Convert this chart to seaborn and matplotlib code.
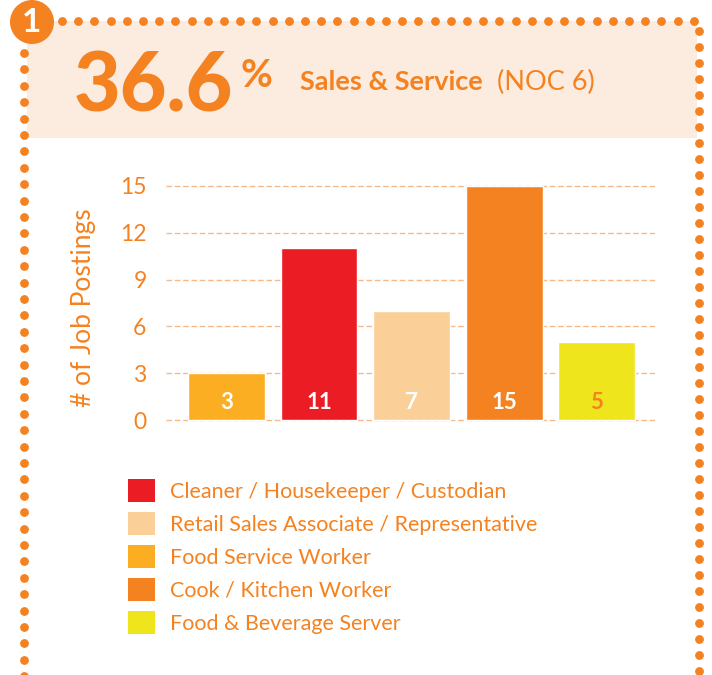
import numpy as np
import pandas as pd
import matplotlib
matplotlib.use("Agg")
from matplotlib import pyplot as plt
from matplotlib.patches import Patch, Rectangle, Circle
import seaborn as sns

# Bar data (left to right)
jobs = ["Food Service Worker", "Cleaner / Housekeeper / Custodian",
        "Retail Sales Associate / Representative", "Cook / Kitchen Worker",
        "Food & Beverage Server"]
postings = [3, 11, 7, 15, 5]

# Legend order as shown in the graphic
legend_order = ["Cleaner / Housekeeper / Custodian",
                "Retail Sales Associate / Representative",
                "Food Service Worker", "Cook / Kitchen Worker",
                "Food & Beverage Server"]

colors = {
    "Food Service Worker": "#FBAE22",
    "Cleaner / Housekeeper / Custodian": "#EC1C24",
    "Retail Sales Associate / Representative": "#FBCF98",
    "Cook / Kitchen Worker": "#F58220",
    "Food & Beverage Server": "#EEE51C",
}
label_colors = ["white", "white", "white", "white", "#F58220"]
yticks = [0, 3, 6, 9, 12, 15]

ORANGE = "#F58220"
PEACH_BG = "#FCEBDF"
GRID = "#F6B98A"

sns.set_theme(style="white")
plt.rcParams["font.family"] = ["Lato", "DejaVu Sans"]

W, H = 712, 675
fig = plt.figure(figsize=(W / 100, H / 100), dpi=100)

# Background / decoration layer in pixel coordinates
bg = fig.add_axes([0, 0, 1, 1], zorder=0)
bg.set_xlim(0, W)
bg.set_ylim(H, 0)
bg.axis("off")
bg.add_patch(Rectangle((27, 21), 670, 117, facecolor=PEACH_BG, edgecolor="none"))

top_x = np.arange(62, 700, 16.2)
bg.scatter(top_x, np.full_like(top_x, 21), s=40, color=ORANGE, linewidths=0)
right_y = np.arange(31, 680, 16)
bg.scatter(np.full_like(right_y, 699), right_y, s=40, color=ORANGE, linewidths=0, clip_on=False)
left_y = np.arange(53, 680, 16.4)
bg.scatter(np.full_like(left_y, 24), left_y, s=40, color=ORANGE, linewidths=0, clip_on=False)
bg.add_patch(Circle((32, 22), 22, facecolor=ORANGE, edgecolor="none", zorder=5, clip_on=False))
bg.text(32, 23, "1", color="white", fontsize=24, fontweight="bold",
        ha="center", va="center", zorder=6)

# Header
bg.text(74, 112, "36.6", color=ORANGE, fontsize=58, fontweight="black",
        ha="left", va="baseline")
bg.text(240, 87, "%", color=ORANGE, fontsize=28, fontweight="bold",
        ha="left", va="baseline")
bg.text(300, 90, "Sales & Service", color=ORANGE, fontsize=19.5, fontweight="bold",
        ha="left", va="baseline")
bg.text(497, 90, "(NOC 6)", color=ORANGE, fontsize=19.5, fontweight="normal",
        ha="left", va="baseline")

# Bar chart
ax_l, ax_r, ax_t, ax_b = 166, 655, 180, 421.6
ax = fig.add_axes([ax_l / W, 1 - ax_b / H, (ax_r - ax_l) / W, (ax_b - ax_t) / H], zorder=2)
ax.patch.set_alpha(0)

df = pd.DataFrame({"job": jobs, "postings": postings})
sns.barplot(data=df, x="job", y="postings", hue="job", palette=colors,
            order=jobs, width=0.83, saturation=1, legend=False, ax=ax, zorder=3)

ax.set_xlim(-0.654, 4.63)
ax.set_ylim(-0.1, 15.38)
ax.set_yticks(yticks)
ax.set_yticklabels([str(t) for t in yticks], color=ORANGE, fontsize=16.5, fontweight="normal")
ax.tick_params(axis="y", length=0, pad=14)
ax.set_xticks([])
ax.set_xlabel("")
ax.set_ylabel("# of Job Postings", color=ORANGE, fontsize=19, fontweight="normal")
ax.yaxis.set_label_coords(-0.143, 0.472)
for s in ax.spines.values():
    s.set_visible(False)
ax.yaxis.grid(True, color=GRID, linestyle=(0, (4, 2)), linewidth=1)
ax.set_axisbelow(True)

for i, (v, c) in enumerate(zip(postings, label_colors)):
    ax.text(i, 1.1, str(v), color=c, fontsize=16, fontweight="bold",
            ha="center", va="center", zorder=4)

# Legend
handles = [Patch(facecolor=colors[j], edgecolor="none", label=j) for j in legend_order]
fs = 15.5
leg = fig.legend(handles=handles, loc="upper left",
                 bbox_to_anchor=(128 / W, 1 - 479 / H), frameon=False,
                 fontsize=fs, labelcolor=ORANGE, handlelength=1.25, handleheight=1.25,
                 handletextpad=0.68, labelspacing=0.48, borderpad=0, borderaxespad=0)

fig.savefig("out.png", dpi=100)
